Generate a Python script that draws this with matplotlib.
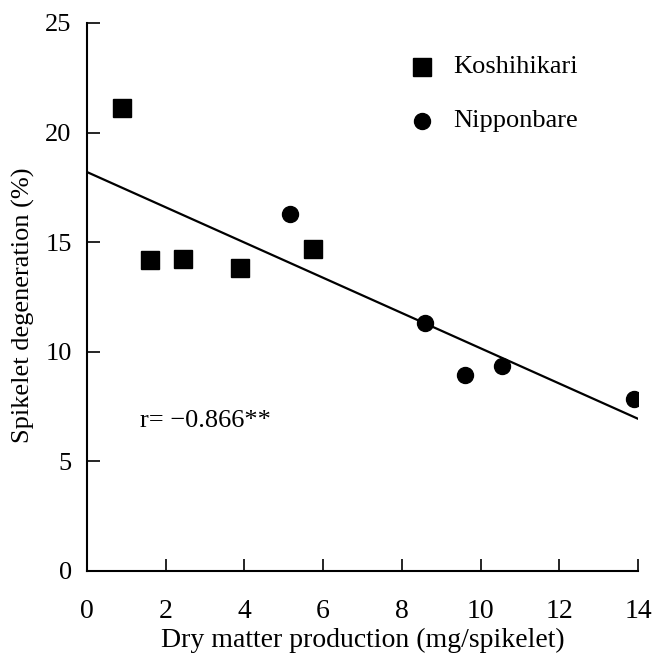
import numpy as np
import matplotlib
matplotlib.use('Agg')
import matplotlib.pyplot as plt

plt.rcParams['font.family'] = ['Liberation Serif', 'DejaVu Serif']

###############################################################################
# Data
###############################################################################

kosh_x = [0.9, 1.6, 2.45, 3.9, 5.75]
kosh_y = [21.1, 14.2, 14.25, 13.8, 14.7]

nipp_x = [5.15, 8.6, 9.6, 10.55, 13.9]
nipp_y = [16.3, 11.3, 8.95, 9.35, 7.85]

# regression line y = a + b*x
fit_a = 18.2
fit_b = -0.804
fit_range = [0, 14]

r_text = 'r= \u22120.866**'
xticks = [0, 2, 4, 6, 8, 10, 12, 14]
yticks = [0, 5, 10, 15, 20, 25]

###############################################################################
# Plot
###############################################################################

fs = 19

fig = plt.figure(figsize=(6.52, 6.62), dpi=100)
ax = fig.add_axes([0.1334, 0.1375, 0.9785 - 0.1334, 0.9653 - 0.1375])

xl = np.array(fit_range, dtype=float)
ax.plot(xl, fit_a + fit_b*xl, color='black', lw=1.6, zorder=2)

ax.plot(kosh_x, kosh_y, 's', color='black', ms=12.5, zorder=3)
ax.plot(nipp_x, nipp_y, 'o', color='black', ms=11.5, zorder=3)

# legend drawn by hand as in the original
ax.plot([8.5], [23.0], 's', color='black', ms=12.5, clip_on=False)
ax.plot([8.5], [20.55], 'o', color='black', ms=11.5, clip_on=False)
ax.text(9.3, 23.0, 'Koshihikari', fontsize=fs, va='center', ha='left')
ax.text(9.3, 20.55, 'Nipponbare', fontsize=fs, va='center', ha='left')

ax.text(1.35, 6.85, r_text, fontsize=fs, va='center', ha='left')

ax.set_xlim(0, 14)
ax.set_ylim(0, 25)
ax.set_xticks(xticks)
ax.set_yticks(yticks)
ax.spines['top'].set_visible(False)
ax.spines['right'].set_visible(False)
ax.spines['left'].set_linewidth(1.5)
ax.spines['bottom'].set_linewidth(1.5)
ax.tick_params(axis='both', direction='in', length=9, width=1.2, labelsize=fs)
ax.tick_params(axis='x', pad=20, labelsize=20)
ax.tick_params(axis='y', pad=11)

ax.set_xlabel('Dry matter production (mg/spikelet)', fontsize=20, labelpad=3)
ax.set_ylabel('Spikelet degeneration (%)', fontsize=fs)
ax.yaxis.set_label_coords(-0.095, 0.485)

plt.savefig('out.png', dpi=100)
